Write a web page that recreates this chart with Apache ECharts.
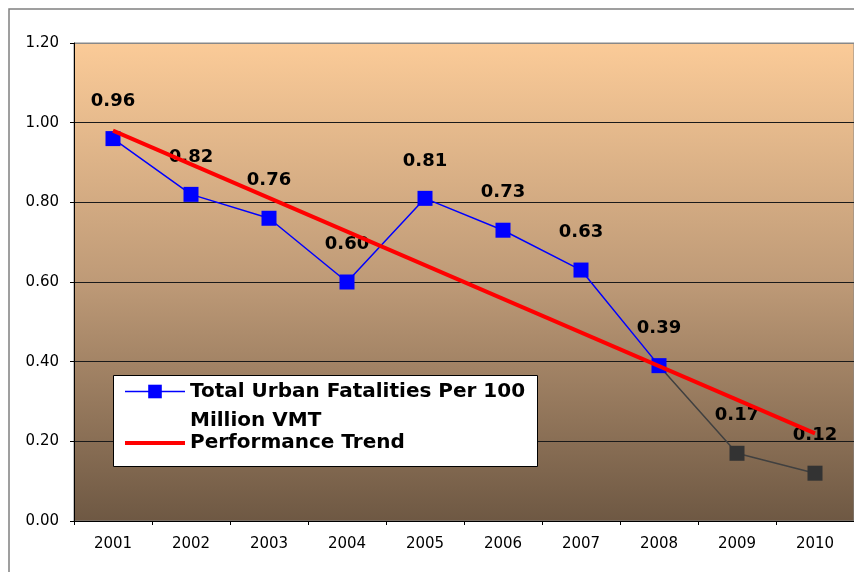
<!DOCTYPE html>
<html>
<head>
<meta charset="utf-8">
<title>Urban Fatalities</title>
<script src="https://cdn.jsdelivr.net/npm/echarts@6/dist/echarts.min.js"></script>
</head>
<body style="margin:0;background:#fff">
<div id="main" style="width:854px;height:572px;"></div>
<script>
// values
const years = ['2001', '2002', '2003', '2004', '2005', '2006', '2007', '2008', '2009', '2010'];
const rate = [0.96, 0.82, 0.76, 0.60, 0.81, 0.73, 0.63, 0.39, 0.17, 0.12];
const grayFrom = 7;            // line turns dark grey after 2008
const trendYears = ['2001', '2010'];
const trendValues = [0.98, 0.22];

const rateName = 'Total Urban Fatalities Per 100 Million VMT';
const trendName = 'Performance Trend';

const chart = echarts.init(document.getElementById('main'));

const labelStyle = {
  show: true,
  position: 'top',
  distance: 21,
  fontFamily: 'DejaVu Sans',
  fontWeight: 'bold',
  fontSize: 18,
  color: '#000',
  formatter: p => p.value == null ? '' : (+p.value).toFixed(2)
};

chart.setOption({
  animation: false,
  graphic: [{
    type: 'rect',
    shape: { x: 9, y: 9, width: 900, height: 600 },
    style: { fill: 'none', stroke: '#808080', lineWidth: 1.5 },
    z: -10
  }, {
    // legend frame
    type: 'rect',
    shape: { x: 113.5, y: 375.5, width: 424, height: 91 },
    style: { fill: '#fff', stroke: '#000', lineWidth: 1 },
    z: 3
  }],
  grid: {
    left: 74, top: 43, right: -1, bottom: 51,
    show: true,
    borderColor: '#888',
    borderWidth: 1,
    backgroundColor: {
      type: 'linear', x: 0, y: 0, x2: 0, y2: 1,
      colorStops: [
        { offset: 0, color: '#FBCB98' },
        { offset: 0.5, color: '#BE9A77' },
        { offset: 1, color: '#6E5843' }
      ]
    }
  },
  legend: {
    orient: 'vertical',
    left: 123,
    top: 348,
    padding: 0,
    itemGap: -2,
    itemWidth: 60,
    itemHeight: 17,
    z: 5,
    textStyle: { fontFamily: 'DejaVu Sans', fontWeight: 'bold', fontSize: 20, color: '#000' },
    formatter: n => n === rateName ? '\nTotal Urban Fatalities Per 100\nMillion VMT' : n,
    data: [
      { name: rateName, textStyle: { lineHeight: 29 }, lineStyle: { width: 1.5 } },
      { name: trendName, textStyle: { lineHeight: 17 }, lineStyle: { width: 4 }, itemStyle: { opacity: 0 } }
    ]
  },
  xAxis: {
    type: 'category',
    data: years,
    boundaryGap: true,
    axisLine: { lineStyle: { color: '#000', width: 1 } },
    axisTick: { show: true, length: 4, lineStyle: { color: '#000' } },
    axisLabel: { margin: 16, fontFamily: 'DejaVu Sans', fontSize: 15, color: '#000' },
    splitLine: { show: false }
  },
  yAxis: {
    type: 'value',
    min: 0, max: 1.2, interval: 0.2,
    axisLine: { show: true, lineStyle: { color: '#000', width: 1 } },
    axisTick: { show: true, length: 4, lineStyle: { color: '#000' } },
    axisLabel: { margin: 15, fontFamily: 'DejaVu Sans', fontSize: 15, color: '#000', formatter: v => v.toFixed(2) },
    splitLine: { show: true, lineStyle: { color: ['#1a1a1a', '#1a1a1a', '#1a1a1a', '#1a1a1a', '#1a1a1a', '#1a1a1a', '#888'], width: 1 } }
  },
  series: [
    {
      name: 'gray part',
      type: 'line',
      data: rate.map((v, i) => i < grayFrom ? null : (i === grayFrom ? { value: v, symbol: 'none', label: { show: false } } : v)),
      symbol: 'rect',
      symbolSize: 15,
      itemStyle: { color: '#333' },
      lineStyle: { color: '#404040', width: 1.5 },
      label: labelStyle,
      z: 2
    },
    {
      name: rateName,
      type: 'line',
      data: rate.map((v, i) => i <= grayFrom ? v : null),
      symbol: 'rect',
      symbolSize: 15,
      itemStyle: { color: '#0000FF' },
      lineStyle: { color: '#0000FF', width: 1.5 },
      label: labelStyle,
      z: 3
    },
    {
      name: trendName,
      type: 'line',
      data: trendYears.map((y, i) => [y, trendValues[i]]),
      symbol: 'none',
      itemStyle: { color: '#FF0000' },
      lineStyle: { color: '#FF0000', width: 4 },
      z: 4
    }
  ]
});
</script>
</body>
</html>
